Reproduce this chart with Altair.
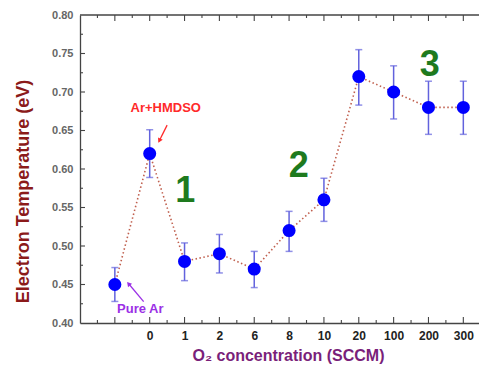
import altair as alt
import pandas as pd

# ---- data ----
categories = ["Pure Ar", "0", "1", "2", "6", "8", "10", "20", "100", "200", "300"]
positions = [0, 1, 2, 3, 4, 5, 6, 7, 8, 9, 10]
temps = [0.45, 0.62, 0.48, 0.49, 0.47, 0.52, 0.56, 0.72, 0.70, 0.68, 0.68]
err_low = [0.428, 0.589, 0.455, 0.465, 0.446, 0.493, 0.532, 0.683, 0.665, 0.645, 0.645]
err_high = [0.472, 0.651, 0.504, 0.515, 0.493, 0.545, 0.588, 0.755, 0.734, 0.714, 0.714]
tick_labels = ["", "0", "1", "2", "6", "8", "10", "20", "100", "200", "300"]

y_labels = [0.40, 0.45, 0.50, 0.55, 0.60, 0.65, 0.70, 0.75, 0.80]
x_major = [0, 1, 2, 3, 4, 5, 6, 7, 8, 9, 10]
x_minor = [-0.5, 0.5, 1.5, 2.5, 3.5, 4.5, 5.5, 6.5, 7.5, 8.5, 9.5]
y_major = [0.45, 0.50, 0.55, 0.60, 0.65, 0.70, 0.75]
y_minor = [0.425, 0.475, 0.525, 0.575, 0.625, 0.675, 0.725, 0.775]

region_text = ["1", "2", "3"]
region_i = [2.02, 5.28, 9.04]
region_v = [0.557, 0.590, 0.721]

red_label = ["Ar+HMDSO"]
red_label_i = [1.46]
red_label_v = [0.6744]
red_arrow = {"i": [1.50], "v": [0.657], "i2": [1.287], "v2": [0.6377]}

purple_label = ["Pure Ar"]
purple_label_i = [0.73]
purple_label_v = [0.4134]
purple_arrow = {"i": [0.827], "v": [0.4277], "i2": [0.408], "v2": [0.4503]}

W, H = 399, 308
AXC = "#444444"

df = pd.DataFrame({"i": positions, "v": temps, "lo": err_low, "hi": err_high, "cat": categories})

xs = alt.Scale(domain=[-1, 10.45], nice=False, zero=False)
ys = alt.Scale(domain=[0.40, 0.80], nice=False, zero=False)

label_expr = "[" + ",".join("'%s'" % t for t in tick_labels) + "][datum.value]"

xaxis = alt.Axis(
    values=x_major, labelExpr=label_expr, ticks=False, grid=False,
    domainColor=AXC, domainWidth=1.3, labelFont="Arial", labelFontWeight="bold",
    labelFontSize=12, labelColor="#222222", labelPadding=7, labelFlush=False,
    labelOverlap=False,
    title="O₂ concentration (SCCM)", titleFont="Arial", titleFontWeight="bold",
    titleFontSize=16, titleColor="#7a1f7a", titleX=208, titleY=32,
    titleAlign="center", titleBaseline="middle",
)
yaxis = alt.Axis(
    values=y_labels, format=".2f", ticks=False, grid=False,
    domainColor=AXC, domainWidth=1.3, labelFont="Arial", labelFontWeight="bold",
    labelFontSize=11, labelColor="#666666", labelPadding=7,
    title="Electron Temperature (eV)", titleFont="Arial", titleFontWeight="bold",
    titleFontSize=18, titleColor="#8b1a1a", titleX=-57, titleY=176,
    titleAngle=270, titleAlign="center", titleBaseline="middle",
)

X = alt.X("i:Q", scale=xs, axis=xaxis)
Y = alt.Y("v:Q", scale=ys, axis=yaxis)

line = alt.Chart(df).mark_line(color="#c0604f", strokeDash=[1.5, 2.5], strokeWidth=1.6).encode(x=X, y=Y)
bars = alt.Chart(df).mark_rule(color="#6262dd", strokeWidth=1.5).encode(
    x=X, y=alt.Y("lo:Q", scale=ys, axis=yaxis), y2="hi:Q")
cap_lo = alt.Chart(df).mark_tick(orient="horizontal", size=7, thickness=1.5, color="#6262dd").encode(
    x=X, y=alt.Y("lo:Q", scale=ys, axis=yaxis))
cap_hi = alt.Chart(df).mark_tick(orient="horizontal", size=7, thickness=1.5, color="#6262dd").encode(
    x=X, y=alt.Y("hi:Q", scale=ys, axis=yaxis))
points = alt.Chart(df).mark_point(filled=True, size=170, color="#0000ff", opacity=1).encode(x=X, y=Y)

# frame top line and inward ticks
one = pd.DataFrame({"a": [0]})
top_line = alt.Chart(one).mark_rule(color=AXC, strokeWidth=1.3).encode(
    x=alt.value(0), x2=alt.value(W), y=alt.value(0))

xmaj = pd.DataFrame({"i": x_major})
xmin = pd.DataFrame({"i": x_minor})
ymaj = pd.DataFrame({"v": y_major})
ymin = pd.DataFrame({"v": y_minor})

def xticks(d, y0, y1):
    return alt.Chart(d).mark_rule(color=AXC, strokeWidth=1.1).encode(x=X, y=alt.value(y0), y2=alt.value(y1))

def yticks(d, length):
    return alt.Chart(d).mark_rule(color=AXC, strokeWidth=1.1).encode(y=Y, x=alt.value(0), x2=alt.value(length))

ticks = [
    xticks(xmaj, H, H - 6), xticks(xmaj, 0, 6),
    xticks(xmin, H, H - 3), xticks(xmin, 0, 3),
    yticks(ymaj, 5), yticks(ymin, 3),
]

# annotations
reg = pd.DataFrame({"t": region_text, "i": region_i, "v": region_v})
region_marks = alt.Chart(reg).mark_text(
    font="Arial", fontWeight="bold", fontSize=36, color="#1e7a1e",
    align="center", baseline="alphabetic").encode(x=X, y=Y, text="t:N")

redt = pd.DataFrame({"t": red_label, "i": red_label_i, "v": red_label_v})
red_text = alt.Chart(redt).mark_text(
    font="Arial", fontWeight="bold", fontSize=13, color="#ff2a2a",
    align="center", baseline="alphabetic").encode(x=X, y=Y, text="t:N")
pt = pd.DataFrame({"t": purple_label, "i": purple_label_i, "v": purple_label_v})
pur_text = alt.Chart(pt).mark_text(
    font="Arial", fontWeight="bold", fontSize=13, color="#9b30e6",
    align="center", baseline="alphabetic").encode(x=X, y=Y, text="t:N")

ra = pd.DataFrame(red_arrow)
red_shaft = alt.Chart(ra).mark_rule(color="#ff2a2a", strokeWidth=1.3).encode(
    x=X, y=Y, x2="i2:Q", y2="v2:Q")
red_head = alt.Chart(ra).mark_point(shape="triangle", filled=True, size=28, color="#ff2a2a",
                                    opacity=1, angle=207).encode(
    x=alt.X("i2:Q", scale=xs, axis=xaxis), y=alt.Y("v2:Q", scale=ys, axis=yaxis))
pa = pd.DataFrame(purple_arrow)
pur_shaft = alt.Chart(pa).mark_rule(color="#9b30e6", strokeWidth=1.3).encode(
    x=X, y=Y, x2="i2:Q", y2="v2:Q")
pur_head = alt.Chart(pa).mark_point(shape="triangle", filled=True, size=28, color="#9b30e6",
                                    opacity=1, angle=320).encode(
    x=alt.X("i2:Q", scale=xs, axis=xaxis), y=alt.Y("v2:Q", scale=ys, axis=yaxis))

chart = alt.layer(
    top_line, *ticks, line, bars, cap_lo, cap_hi, points,
    region_marks, red_text, pur_text, red_shaft, red_head, pur_shaft, pur_head,
).properties(
    width=W, height=H,
    autosize=alt.AutoSizeParams(type="none"),
    padding={"left": 72, "top": 7, "right": 0, "bottom": 41},
    background="white",
).configure_view(stroke="transparent")

chart.save("out.html", embed_options={"renderer": "svg", "actions": False})
